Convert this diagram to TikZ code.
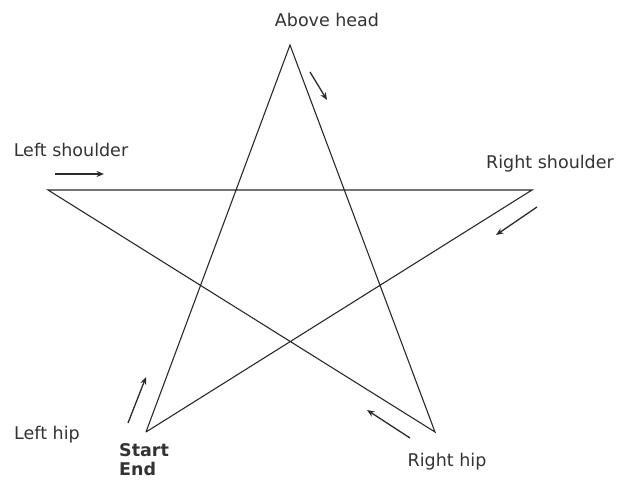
\documentclass[tikz,border=0pt]{standalone}
\usepackage{fontspec}
\setmainfont{DejaVu Sans}
\usetikzlibrary{arrows.meta}
\definecolor{ink}{HTML}{2A2A2A}
\definecolor{txt}{HTML}{333333}
\begin{document}
\begin{tikzpicture}[x=1pt,y=-1pt,
  starline/.style={draw=ink,line width=1.1pt},
  hint/.style={draw=ink,line width=1.3pt,-{Stealth[length=7.5pt,width=6pt]}},
  lbl/.style={text=txt,font=\fontsize{17.5}{20}\selectfont,inner sep=0pt}]
\useasboundingbox (0,0) rectangle (618,484);
% star points
\coordinate (head) at (290,45);
\coordinate (ls) at (48,190);
\coordinate (rs) at (532,190);
\coordinate (lh) at (146,432);
\coordinate (rh) at (435,432);
\draw[starline] (lh) -- (head) -- (rh) -- (ls) -- (rs) -- (lh);
% labels
\node[lbl] (thead) at (327,20) {Above head};
\node[lbl] (tls) at (71,150) {Left shoulder};
\node[lbl] (trs) at (550,164) {Right shoulder};
\node[lbl] (tlh) at (47,435) {Left hip};
\node[lbl] (trh) at (447,462) {Right hip};
\node[lbl,font=\fontsize{17.5}{19.5}\selectfont\bfseries,align=left,anchor=north west] (tse) at (119,443) {Start\\End};
% direction arrows
\coordinate (a1s) at (310,72); \coordinate (a1e) at (327,100);
\coordinate (a2s) at (55,174); \coordinate (a2e) at (104,174);
\coordinate (a3s) at (537,207); \coordinate (a3e) at (496,235);
\coordinate (a4s) at (410,438); \coordinate (a4e) at (367,410);
\coordinate (a5s) at (128,423); \coordinate (a5e) at (146,377);
\draw[hint] (a1s) -- (a1e);
\draw[hint] (a2s) -- (a2e);
\draw[hint] (a3s) -- (a3e);
\draw[hint] (a4s) -- (a4e);
\draw[hint] (a5s) -- (a5e);
\end{tikzpicture}
\end{document}
